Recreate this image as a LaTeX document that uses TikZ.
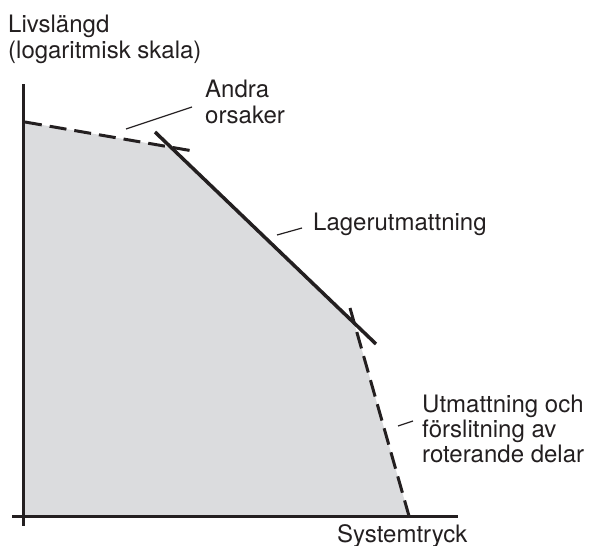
\documentclass[tikz,border=0pt]{standalone}
\usepackage{fontspec}
\setmainfont{TeX Gyre Heros}
\definecolor{ink}{HTML}{231F20}
\definecolor{area}{HTML}{DBDCDE}
\begin{document}
\begin{tikzpicture}[x=1pt,y=-1pt,
  lbl/.style={anchor=base west,inner sep=0pt,text=ink,font=\fontsize{24}{28}\selectfont},
  axisline/.style={draw=ink,line width=3pt},
  curve/.style={draw=ink,line width=3.5pt},
  dashcurve/.style={draw=ink,line width=3pt,dash pattern=on 17pt off 8pt},
  leader/.style={draw=ink,line width=1.2pt}]
\useasboundingbox (0,0) rectangle (589,546);
% endpoints
\coordinate (d1s) at (25,122);
\coordinate (d1e) at (193,151);
\coordinate (ss) at (155,132);
\coordinate (se) at (376,344);
\coordinate (d2s) at (350,308);
\coordinate (d2e) at (409,516);
\coordinate (o) at (23,516);
\coordinate (yt) at (23,84);
\coordinate (yb) at (23,526);
\coordinate (xl) at (12,516);
\coordinate (xr) at (458,516);
\coordinate (k1) at (intersection of d1s--d1e and ss--se);
\coordinate (k2) at (intersection of ss--se and d2s--d2e);
% shaded area
\fill[area] (d1s) -- (k1) -- (k2) -- (d2e) -- (25,516) -- cycle;
% axes
\draw[axisline] (yt) -- (yb);
\draw[axisline] (xl) -- (xr);
% lines
\draw[dashcurve] (d1s) -- (d1e);
\draw[curve] (ss) -- (se);
\draw[dashcurve] (d2s) -- (d2e);
% labels
\node[lbl] (y1) at (8,32) {Livslängd};
\node[lbl] (y2) at (8,58) {(logaritmisk skala)};
\node[lbl] (a1) at (205,97) {Andra};
\node[lbl] (a2) at (205,123) {orsaker};
\node[lbl] (b1) at (313,230) {Lagerutmattning};
\node[lbl] (c1) at (422,412) {Utmattning och};
\node[lbl] (c2) at (422,437) {förslitning av};
\node[lbl] (c3) at (422,462) {roterande delar};
\node[lbl] (xlab) at (337,542) {Systemtryck};
% leaders
\coordinate (la1) at (126,129);
\coordinate (la2) at (192,107);
\coordinate (lb1) at (277,235);
\coordinate (lb2) at (302,228);
\coordinate (lc1) at (398,426);
\coordinate (lc2) at (413,421);
\draw[leader] (la1) -- (la2);
\draw[leader] (lb1) -- (lb2);
\draw[leader] (lc1) -- (lc2);
\end{tikzpicture}
\end{document}
